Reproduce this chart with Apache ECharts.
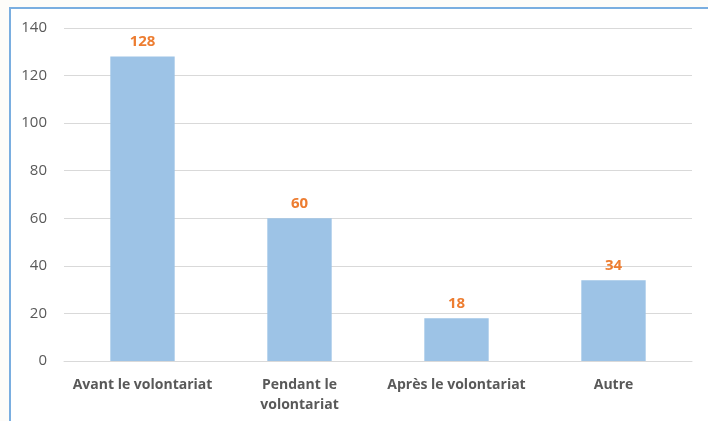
<!DOCTYPE html>
<html>
<head>
<meta charset="utf-8">
<script src="https://cdn.jsdelivr.net/npm/echarts@6/dist/echarts.min.js"></script>
<style>
	html, body { margin: 0; padding: 0; background: #fdfcf9; }
	#frame {
		position: absolute; left: 9px; top: 7px; right: -2px; bottom: -2px;
		border-left: 2px solid #7aaee0; border-top: 2px solid #7aaee0;
		background: #fff;
	}
	#chart { position: absolute; left: 0; top: 0; width: 708px; height: 421px; }
</style>
</head>
<body>
<div id="frame"></div>
<div id="chart"></div>
<script>
const categories = ['Avant le volontariat', 'Pendant le\nvolontariat', 'Après le volontariat', 'Autre'];
const values = [128, 60, 18, 34];
const yTicks = [0, 20, 40, 60, 80, 100, 120, 140];

const chart = echarts.init(document.getElementById('chart'));
chart.setOption({
	animation: false,
	grid: { left: 64, right: 16, top: 28, bottom: 60 },
	xAxis: {
		type: 'category',
		data: categories,
		axisLine: { lineStyle: { color: '#d9d9d9' } },
		axisTick: { show: false },
		axisLabel: {
			interval: 0, color: '#595959', fontWeight: 'bold', fontSize: 14,
			fontFamily: 'Open Sans', margin: 14, lineHeight: 20
		}
	},
	yAxis: {
		type: 'value',
		min: yTicks[0], max: yTicks[yTicks.length - 1], interval: 20,
		axisLine: { show: false },
		axisTick: { show: false },
		splitLine: { lineStyle: { color: '#d9d9d9' } },
		axisLabel: { color: '#595959', fontSize: 15, fontFamily: 'Open Sans', margin: 17 }
	},
	series: [{
		type: 'bar',
		data: values,
		barWidth: '41%',
		itemStyle: { color: '#9dc3e6' },
		label: {
			show: true, position: 'top', distance: 7,
			color: '#ed7d31', fontWeight: 'bold', fontSize: 15, fontFamily: 'Open Sans'
		}
	}]
});
</script>
</body>
</html>
